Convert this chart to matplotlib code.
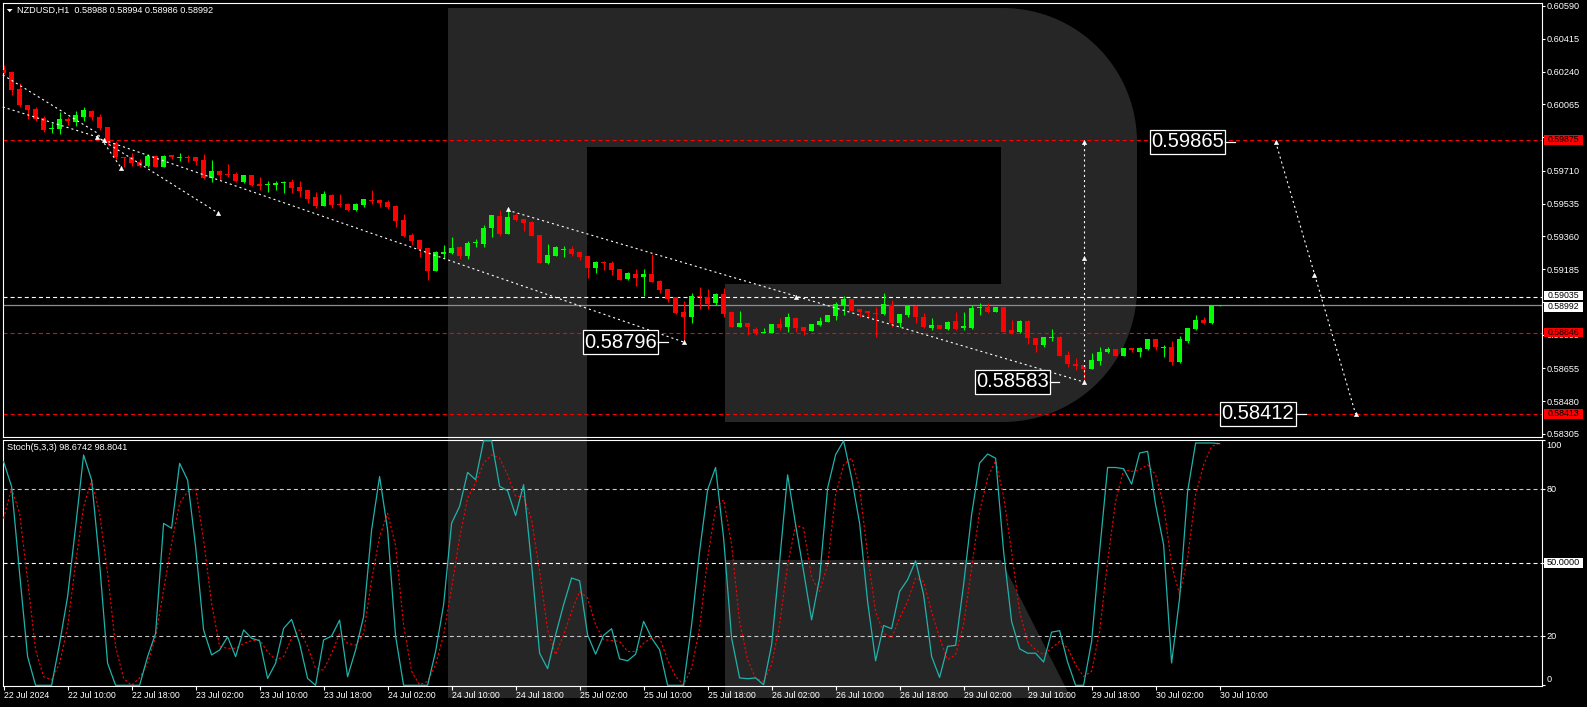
import numpy as np
import matplotlib
matplotlib.use("Agg")
import matplotlib.pyplot as plt
from matplotlib.patches import Rectangle, Polygon
from matplotlib.transforms import blended_transform_factory as blend

plt.rcParams['font.family'] = ['Liberation Sans', 'DejaVu Sans']
plt.rcParams['lines.scale_dashes'] = False

# ---------------- data ----------------
symbol = "NZDUSD,H1"
x_labels = ["22 Jul 2024", "22 Jul 10:00", "22 Jul 18:00", "23 Jul 02:00", "23 Jul 10:00",
            "23 Jul 18:00", "24 Jul 02:00", "24 Jul 10:00", "24 Jul 18:00", "25 Jul 02:00",
            "25 Jul 10:00", "25 Jul 18:00", "26 Jul 02:00", "26 Jul 10:00", "26 Jul 18:00",
            "29 Jul 02:00", "29 Jul 10:00", "29 Jul 18:00", "30 Jul 02:00", "30 Jul 10:00"]

opens = [0.60248, 0.60238, 0.60147, 0.60061, 0.60040, 0.59994, 0.59932, 0.59933, 0.59984, 0.59969,
         0.59999, 0.60029, 0.59997, 0.59944, 0.59857, 0.59785, 0.59782, 0.59757, 0.59736, 0.59789,
         0.59732, 0.59792, 0.59777, 0.59782, 0.59782, 0.59768, 0.59673, 0.59709, 0.59691, 0.59693,
         0.59649, 0.59688, 0.59640, 0.59633, 0.59636, 0.59647, 0.59652, 0.59625, 0.59608, 0.59569,
         0.59522, 0.59583, 0.59534, 0.59533, 0.59501, 0.59526, 0.59553, 0.59554, 0.59544, 0.59524,
         0.59447, 0.59367, 0.59341, 0.59298, 0.59177, 0.59266, 0.59270, 0.59305, 0.59255, 0.59323,
         0.59319, 0.59403, 0.59469, 0.59373, 0.59474, 0.59451, 0.59438, 0.59367, 0.59219, 0.59255,
         0.59289, 0.59291, 0.59278, 0.59255, 0.59190, 0.59223, 0.59219, 0.59186, 0.59131, 0.59159,
         0.59141, 0.59159, 0.59123, 0.59077, 0.59035, 0.58955, 0.58928, 0.59042, 0.59035, 0.59003,
         0.59052, 0.58958, 0.58878, 0.58896, 0.58864, 0.58846, 0.58846, 0.58892, 0.58875, 0.58923,
         0.58875, 0.58856, 0.58887, 0.58904, 0.58935, 0.58992, 0.59024, 0.58971, 0.58962, 0.58949,
         0.58946, 0.58994, 0.58896, 0.58940, 0.58989, 0.58931, 0.58869, 0.58887, 0.58864, 0.58910,
         0.58869, 0.58869, 0.58979, 0.58985, 0.58958, 0.58981, 0.58860, 0.58848, 0.58910, 0.58816,
         0.58780, 0.58819, 0.58824, 0.58727, 0.58677, 0.58672, 0.58652, 0.58696, 0.58744, 0.58759,
         0.58721, 0.58762, 0.58744, 0.58757, 0.58810, 0.58766, 0.58768, 0.58691, 0.58801, 0.58864,
         0.58914, 0.58899, 0.58988]
highs = [0.60275, 0.60243, 0.60177, 0.60063, 0.60049, 0.60003, 0.59964, 0.60026, 0.59999, 0.60029,
         0.60052, 0.60035, 0.60013, 0.59946, 0.59869, 0.59786, 0.59807, 0.59771, 0.59800, 0.59793,
         0.59793, 0.59794, 0.59804, 0.59794, 0.59783, 0.59798, 0.59768, 0.59713, 0.59746, 0.59702,
         0.59690, 0.59689, 0.59679, 0.59656, 0.59656, 0.59656, 0.59666, 0.59656, 0.59610, 0.59595,
         0.59602, 0.59585, 0.59586, 0.59540, 0.59540, 0.59560, 0.59608, 0.59558, 0.59554, 0.59529,
         0.59480, 0.59380, 0.59343, 0.59300, 0.59280, 0.59314, 0.59355, 0.59307, 0.59337, 0.59344,
         0.59421, 0.59476, 0.59501, 0.59506, 0.59483, 0.59453, 0.59440, 0.59369, 0.59318, 0.59307,
         0.59309, 0.59309, 0.59280, 0.59257, 0.59227, 0.59230, 0.59230, 0.59188, 0.59171, 0.59184,
         0.59184, 0.59266, 0.59125, 0.59079, 0.59037, 0.59017, 0.59059, 0.59088, 0.59077, 0.59056,
         0.59083, 0.58960, 0.58963, 0.58898, 0.58878, 0.58869, 0.58894, 0.58923, 0.58949, 0.58931,
         0.58877, 0.58894, 0.58928, 0.58942, 0.59011, 0.59042, 0.59026, 0.58973, 0.58964, 0.58985,
         0.59056, 0.59020, 0.58948, 0.58991, 0.58991, 0.58953, 0.58923, 0.58889, 0.58906, 0.58955,
         0.58958, 0.58994, 0.59003, 0.59003, 0.58983, 0.58983, 0.58914, 0.58914, 0.58912, 0.58818,
         0.58823, 0.58864, 0.58826, 0.58748, 0.58709, 0.58674, 0.58736, 0.58771, 0.58771, 0.58761,
         0.58764, 0.58764, 0.58771, 0.58814, 0.58812, 0.58780, 0.58801, 0.58828, 0.58871, 0.58940,
         0.58931, 0.58996, 0.58994]
lows = [0.60227, 0.60115, 0.60052, 0.59987, 0.59976, 0.59919, 0.59910, 0.59907, 0.59955, 0.59951,
        0.59978, 0.59981, 0.59928, 0.59848, 0.59771, 0.59732, 0.59736, 0.59732, 0.59732, 0.59730,
        0.59729, 0.59775, 0.59761, 0.59757, 0.59741, 0.59666, 0.59652, 0.59661, 0.59675, 0.59650,
        0.59645, 0.59631, 0.59608, 0.59599, 0.59608, 0.59593, 0.59590, 0.59572, 0.59540, 0.59513,
        0.59520, 0.59513, 0.59515, 0.59495, 0.59495, 0.59518, 0.59533, 0.59518, 0.59506, 0.59412,
        0.59358, 0.59314, 0.59251, 0.59127, 0.59175, 0.59243, 0.59266, 0.59239, 0.59239, 0.59305,
        0.59305, 0.59358, 0.59362, 0.59371, 0.59443, 0.59390, 0.59362, 0.59217, 0.59212, 0.59253,
        0.59251, 0.59255, 0.59234, 0.59139, 0.59163, 0.59180, 0.59154, 0.59125, 0.59127, 0.59095,
        0.59042, 0.59116, 0.59059, 0.59011, 0.58946, 0.58796, 0.58896, 0.58971, 0.58971, 0.58994,
        0.58928, 0.58876, 0.58875, 0.58833, 0.58833, 0.58843, 0.58844, 0.58860, 0.58851, 0.58851,
        0.58833, 0.58855, 0.58881, 0.58902, 0.58913, 0.58940, 0.58961, 0.58928, 0.58923, 0.58824,
        0.58940, 0.58878, 0.58878, 0.58928, 0.58899, 0.58869, 0.58860, 0.58863, 0.58862, 0.58860,
        0.58860, 0.58864, 0.58940, 0.58953, 0.58956, 0.58849, 0.58837, 0.58846, 0.58785, 0.58744,
        0.58768, 0.58803, 0.58719, 0.58664, 0.58647, 0.58583, 0.58650, 0.58673, 0.58736, 0.58719,
        0.58719, 0.58744, 0.58718, 0.58755, 0.58753, 0.58714, 0.58673, 0.58685, 0.58792, 0.58860,
        0.58892, 0.58892, 0.58986]
closes = [0.60234, 0.60141, 0.60061, 0.60035, 0.59987, 0.59928, 0.59937, 0.59987, 0.59976, 0.60008,
          0.60035, 0.59996, 0.59937, 0.59857, 0.59782, 0.59781, 0.59753, 0.59736, 0.59789, 0.59732,
          0.59789, 0.59786, 0.59781, 0.59778, 0.59764, 0.59673, 0.59709, 0.59688, 0.59688, 0.59656,
          0.59688, 0.59634, 0.59631, 0.59635, 0.59647, 0.59649, 0.59620, 0.59604, 0.59560, 0.59522,
          0.59586, 0.59528, 0.59528, 0.59501, 0.59533, 0.59558, 0.59549, 0.59540, 0.59515, 0.59442,
          0.59364, 0.59335, 0.59294, 0.59177, 0.59278, 0.59278, 0.59296, 0.59255, 0.59326, 0.59325,
          0.59406, 0.59474, 0.59371, 0.59462, 0.59447, 0.59433, 0.59364, 0.59219, 0.59261, 0.59305,
          0.59291, 0.59266, 0.59251, 0.59190, 0.59225, 0.59219, 0.59180, 0.59127, 0.59163, 0.59139,
          0.59159, 0.59118, 0.59074, 0.59024, 0.58949, 0.58928, 0.59042, 0.59035, 0.58999, 0.59052,
          0.58946, 0.58878, 0.58899, 0.58875, 0.58846, 0.58848, 0.58892, 0.58869, 0.58928, 0.58869,
          0.58856, 0.58892, 0.58910, 0.58940, 0.58999, 0.59024, 0.58963, 0.58958, 0.58949, 0.58946,
          0.58997, 0.58896, 0.58946, 0.58989, 0.58928, 0.58875, 0.58887, 0.58865, 0.58904, 0.58864,
          0.58881, 0.58976, 0.58981, 0.58958, 0.58981, 0.58851, 0.58846, 0.58910, 0.58816, 0.58780,
          0.58821, 0.58821, 0.58721, 0.58677, 0.58670, 0.58652, 0.58700, 0.58744, 0.58759, 0.58721,
          0.58762, 0.58753, 0.58762, 0.58812, 0.58768, 0.58768, 0.58691, 0.58810, 0.58869, 0.58914,
          0.58899, 0.58994, 0.58992]

stoch_k = [91.3, 81.1, 45.7, 11.7, 0.0, 0.0, 0.0, 17.1, 36.2, 64.7,
           94.0, 83.8, 49.8, 9.0, 0.0, 0.0, 0.0, 0.0, 11.7, 21.2,
           66.1, 64.1, 90.6, 83.8, 56.6, 22.6, 12.4, 14.4, 19.8, 11.7,
           22.6, 19.2, 18.2, 2.8, 9.0, 23.2, 26.9, 17.1, 2.8, 0.0,
           18.5, 20.1, 26.6, 3.5, 14.4, 28.0, 63.4, 85.2, 63.4, 20.0,
           0.0, 0.0, 0.0, 0.0, 13.8, 32.9, 66.2, 73.0, 86.9, 83.9,
           99.8, 99.8, 81.2, 79.4, 69.3, 81.9, 49.2, 13.1, 6.8, 20.6,
           32.9, 43.8, 42.7, 20.6, 12.7, 20.4, 23.1, 10.8, 10.0, 12.7,
           26.1, 19.3, 14.5, 0.0, 0.0, 0.0, 24.7, 54.6, 79.8, 88.9,
           60.1, 19.3, 3.0, 2.7, 3.0, 0.2, 16.5, 50.6, 85.9, 65.5,
           46.5, 26.7, 43.8, 80.5, 94.1, 99.8, 84.6, 66.2, 34.2, 10.0,
           24.4, 23.1, 38.3, 43.1, 50.8, 37.0, 11.8, 3.2, 15.9, 16.3,
           41.1, 69.6, 90.7, 94.4, 92.7, 54.6, 26.1, 14.9, 13.1, 13.1,
           9.5, 21.7, 22.3, 9.5, 0.0, 0.0, 17.9, 54.6, 88.9, 88.9,
           88.4, 82.1, 94.8, 95.5, 73.7, 57.4, 9.1, 35.6, 79.1, 98.9,
           98.9, 98.9, 98.6742]
stoch_d = [68.1, 80.4, 70.2, 43.0, 14.4, 3.5, 2.2, 9.0, 23.9, 49.8,
           72.9, 83.8, 70.2, 45.7, 15.8, 2.8, 0.0, 3.0, 9.0, 19.8,
           38.9, 57.9, 74.3, 79.0, 80.4, 59.3, 33.5, 15.8, 15.1, 15.1,
           17.1, 18.2, 18.5, 13.7, 10.3, 11.7, 19.2, 22.6, 15.8, 6.9,
           6.2, 13.0, 21.2, 17.1, 16.4, 21.2, 43.0, 60.7, 70.2, 57.0,
           24.7, 5.7, 0.2, 1.6, 8.4, 20.6, 39.7, 60.1, 76.4, 82.5,
           90.7, 94.1, 92.7, 85.9, 77.1, 77.1, 67.6, 46.5, 22.7, 12.5,
           20.6, 30.1, 38.3, 35.6, 24.7, 18.6, 18.3, 17.9, 13.8, 13.8,
           17.2, 19.3, 19.5, 10.4, 3.6, 0.2, 7.0, 23.3, 51.9, 72.3,
           75.7, 57.4, 26.1, 10.4, 2.9, 1.6, 8.4, 24.7, 49.2, 65.3,
           64.2, 44.0, 38.3, 49.2, 77.8, 90.0, 92.7, 80.5, 53.3, 30.1,
           21.3, 19.3, 27.4, 34.2, 43.8, 42.4, 30.1, 19.3, 10.4, 12.5,
           24.7, 47.8, 71.0, 84.6, 91.6, 77.1, 54.6, 30.1, 17.9, 14.5,
           12.5, 15.2, 17.9, 15.2, 8.4, 3.6, 5.7, 22.0, 50.6, 75.1,
           88.0, 87.3, 88.0, 90.0, 85.9, 73.7, 49.2, 37.0, 51.9, 77.8,
           90.0, 97.5, 98.8041]

price_ticks = [0.60590, 0.60415, 0.60240, 0.60065, 0.59890, 0.59710, 0.59535, 0.59360,
               0.59185, 0.59010, 0.58835, 0.58655, 0.58480, 0.58305]
red_levels = [0.59875, 0.58846, 0.58413]
white_level = 0.59035
bid_price = 0.58992
stoch_levels = [20, 50, 80]

# analyst drawings: (bar index, price) vertices
trend_lines = [
    [(-0.1, 0.60222), (11.7, 0.59912), (14.7, 0.59725)],
    [(-0.1, 0.60051), (11.7, 0.59891), (26.8, 0.59485)],
    [(12.5, 0.59875), (85.0, 0.58796)],
    [(63.0, 0.59500), (135.0, 0.58583)],
    [(135.0, 0.58583), (135.0, 0.59865)],
    [(159.0, 0.59865), (169.0, 0.58412)],
]
arrow_points = [(14.7, 0.59725), (26.8, 0.59485), (11.7, 0.59891), (12.5, 0.59875),
                (63.0, 0.59506), (85.0, 0.58796), (99.0, 0.59038), (135.0, 0.58583),
                (135.0, 0.59245), (135.0, 0.59865), (159.0, 0.59865), (163.8, 0.59154),
                (169.0, 0.58412)]
target_values = [0.58796, 0.58583, 0.59865, 0.58412]

# ---------------- layout ----------------
W, H = 1587, 707
fig = plt.figure(figsize=(W / 100, H / 100), dpi=100, facecolor='black')


def fig_rect(x0, y0, x1, y1):
    return [x0 / W, 1 - y1 / H, (x1 - x0) / W, (y1 - y0) / H]


# background watermark (pixel coordinates)
bg = fig.add_axes([0, 0, 1, 1])
bg.set_xlim(0, W)
bg.set_ylim(H, 0)
bg.axis('off')
bg.set_zorder(0)
logo = '#262626'


def arc(cx, cy, r, a0, a1, n=40):
    t = np.radians(np.linspace(a0, a1, n))
    return np.column_stack([cx + r * np.cos(t), cy - r * np.sin(t)])


bowl = np.vstack([[(587, 8), (1003, 8)], arc(1003, 142, 134, 90, 0), arc(1003, 288, 134, 0, -90),
                  [(725, 422), (725, 284), (1001, 284), (1001, 147), (587, 147)]])
bg.add_patch(Polygon(bowl, closed=True, fc=logo, ec='none'))
bg.add_patch(Rectangle((448, 8), 139, 690, fc=logo, ec='none'))
bg.add_patch(Polygon([(725, 560), (1001, 560), (1071, 698), (725, 698)], closed=True, fc=logo, ec='none'))

ax1 = fig.add_axes(fig_rect(2.7, 2.7, 1541.7, 436.7))
ax2 = fig.add_axes(fig_rect(2.7, 440, 1541.7, 686), sharex=ax1)
for ax in (ax1, ax2):
    ax.set_facecolor('none')
    ax.set_zorder(2)
    for s in ax.spines.values():
        s.set_color('white')
        s.set_linewidth(0.8)

n = len(opens)
xs = np.arange(n)
ax1.set_xlim((2.7 - 3.6) / 8, (1541.7 - 3.6) / 8)
ppx = 5.339e-5
ax1.set_ylim(0.60622 - ppx * 436.7, 0.60622 - ppx * 2.7)
ax2.set_ylim((685.3 - 686) / 2.45, (685.3 - 440) / 2.45)

# horizontal levels
for lv in red_levels:
    ax1.axhline(lv, color='#ff0000', lw=0.8, dashes=(2.9, 2.2), zorder=2)
ax1.axhline(white_level, color='white', lw=0.8, dashes=(2.9, 2.2), zorder=2)
ax1.axhline(bid_price, color='#8090a4', lw=0.9, zorder=2)

# candles
o, h, l, c = map(np.array, (opens, highs, lows, closes))
up = c >= o
cols = np.where(up, '#00ff00', '#ff0000')
ax1.vlines(xs, l, h, colors=cols, lw=0.8, zorder=4)
bot = np.minimum(o, c)
bh = np.maximum(np.abs(c - o), ppx)
ax1.bar(xs, bh, bottom=bot, width=0.62, color=cols, lw=0, zorder=5)

# trend lines
for line in trend_lines:
    lx, ly = zip(*line)
    ax1.plot(lx, ly, color='white', lw=0.8, dashes=(1.5, 2.2), zorder=6, clip_on=False)
ax_, ay_ = zip(*arrow_points)
ax1.plot(ax_, ay_, ls='none', marker='^', ms=3.2, mfc='white', mec='white', mew=0.3, zorder=7)

# target labels
box_right = [81.8, 130.8, 152.7, 161.5]
conn_end = [83.0, 131.9, 153.9, 162.8]
bw = 9.4
bhp = 24 * ppx
for val, br, ce in zip(target_values, box_right, conn_end):
    ax1.add_patch(Rectangle((br - bw, val - bhp / 2), bw, bhp, fc='black', ec='white', lw=0.9, zorder=8))
    ax1.text(br - bw / 2, val, f"{val:.5f}", color='white', fontsize=14.5, ha='center', va='center',
             zorder=9)
    ax1.plot([br, ce], [val, val], color='white', lw=0.9, zorder=8)

# right price axis (labels hidden behind the stacked white tags are left blank)
hidden_tick = 0.59010
ax1.yaxis.tick_right()
ax1.set_yticks(price_ticks)
ax1.set_yticklabels(["" if t == hidden_tick else f"{t:.5f}" for t in price_ticks])
ax1.tick_params(axis='y', colors='white', labelsize=6.6, length=2.2, width=0.8, pad=1.5, direction='out')
ax1.tick_params(axis='x', bottom=False, labelbottom=False)

tb = blend(ax1.transAxes, ax1.transData)
bx0 = 1 + 2.3 / 1539
bxw = 39 / 1539
# (level, box colour, text colour, vertical nudge in pixels so stacked tags do not collide)
tags = [(red_levels[0], '#ff0000', 'black', 0.0), (red_levels[1], '#ff0000', 'black', 0.0),
        (red_levels[2], '#ff0000', 'black', 0.0), (white_level, 'white', 'black', 1.6),
        (bid_price, 'white', 'black', -1.6)]
for lv, fc, tc, nudge in tags:
    yc = lv + nudge * ppx
    ax1.add_patch(Rectangle((bx0, yc - 4.8 * ppx), bxw, 9.6 * ppx, transform=tb, fc=fc, ec='none',
                            clip_on=False, zorder=10))
    ax1.text(bx0 + bxw / 2, yc, f"{lv:.5f}", transform=tb, color=tc, fontsize=6.3, ha='center',
             va='center', zorder=11, clip_on=False)

# header
fig.text(17 / W, 1 - 10.7 / H, f"{symbol}  {opens[-1]:.5f} {highs[-1]:.5f} {lows[-1]:.5f} {closes[-1]:.5f}",
         color='white', fontsize=6.6, va='center', ha='left')
bg.add_patch(Polygon([(6.8, 9), (12.6, 9), (9.7, 12.2)], closed=True, fc='white', ec='none'))

# ---------------- stochastic panel ----------------
for lv in stoch_levels:
    ax2.axhline(lv, color='white' if lv == 50 else '#c8c8c8', lw=0.8, dashes=(2.9, 2.2), zorder=2)
ax2.plot(xs, stoch_d, color='#ff0000', lw=0.8, dashes=(1.6, 1.6), zorder=3)
ax2.plot(xs, stoch_k, color='#20b2aa', lw=0.9, zorder=4)

ax2.yaxis.tick_right()
ax2.set_yticks([0, 20, 50, 80, 100])
ax2.set_yticklabels([])
ax2.tick_params(axis='y', colors='white', length=2.2, width=0.8, direction='out')
tb2 = blend(ax2.transAxes, ax2.transData)
for txt, v in [("100", 97.7), ("80", 80), ("20", 20), ("0", 2.4)]:
    ax2.text(1 + 4.5 / 1539, v, txt, transform=tb2, color='white', fontsize=6.6, va='center', ha='left',
             clip_on=False)
ax2.add_patch(Rectangle((bx0, 50 - 5 / 2.45), 39 / 1539, 10 / 2.45, transform=tb2, fc='white', ec='none',
                        clip_on=False, zorder=10))
ax2.text(bx0 + bxw / 2, 50, "50.0000", transform=tb2, color='black', fontsize=6.6, ha='center', va='center',
         zorder=11, clip_on=False)
ax2.text(4.3 / 1539, 1 - 8 / 246, f"Stoch(5,3,3) {stoch_k[-1]:.4f} {stoch_d[-1]:.4f}", transform=ax2.transAxes,
         color='white', fontsize=6.6, va='center', ha='left')

ax2.set_xticks(np.arange(0, n, 8))
ax2.set_xticklabels(x_labels)
ax2.tick_params(axis='x', colors='white', labelsize=6.3, length=2.6, width=0.8, pad=0.8, direction='out')
for lbl in ax2.get_xticklabels():
    lbl.set_ha('left')

fig.savefig("out.png", dpi=100, facecolor='black')
